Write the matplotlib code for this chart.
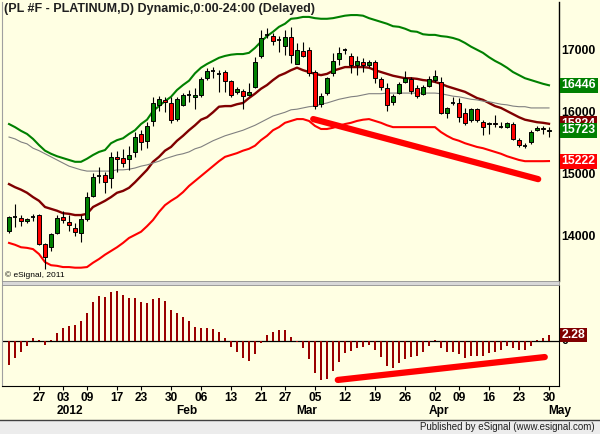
import numpy as np
import pandas as pd
import matplotlib
matplotlib.use('Agg')
import matplotlib.pyplot as plt
import matplotlib.transforms as mtransforms
from matplotlib.patches import Rectangle

plt.rcParams['font.family'] = ['Liberation Sans', 'DejaVu Sans']

# Trading days Dec 19 2011 - Apr 30 2012 (exchange holidays removed)
holidays = ['2011-12-26', '2012-01-02', '2012-01-16', '2012-02-20', '2012-04-06']
days = pd.bdate_range('2011-12-19', '2012-04-30')
days = days[~days.isin(pd.to_datetime(holidays))]

# Daily OHLC
opens = [14090, 14320, 14300, 14250, 14320, 14350, 13880, 13830, 14060, 14320,
         14240, 14140, 14060, 14290, 14660, 14980, 15000, 14950, 15290, 15270,
         15260, 15370, 15660, 15550, 15870, 16130, 16210, 16160, 15900, 16130,
         16290, 16260, 16290, 16560, 16680, 16630, 16660, 16520, 16340, 16350,
         16290, 16420, 16920, 17260, 17240, 17180, 17080, 17230, 16790, 17000,
         17020, 16660, 16140, 16320, 16640, 16870, 17020, 16920, 16770, 16820,
         16770, 16820, 16550, 16400, 16180, 16320, 16500, 16550, 16400, 16300,
         16430, 16530, 16500, 16000, 16160, 16160, 16000, 15890, 16060, 15850,
         15820, 15840, 15770, 15770, 15820, 15560, 15470, 15530, 15720, 15760,
         15700]
highs = [14335, 14530, 14350, 14300, 14370, 14360, 13900, 14060, 14350, 14420,
         14350, 14220, 14350, 14720, 15030, 15130, 15050, 15370, 15390, 15420,
         15470, 15690, 15720, 15850, 16260, 16270, 16260, 16260, 16260, 16320,
         16370, 16400, 16580, 16720, 16740, 16690, 16690, 16530, 16420, 16390,
         16480, 16900, 17340, 17370, 17290, 17240, 17340, 17390, 17130, 17150,
         17070, 16690, 16320, 16580, 16970, 17060, 17050, 16970, 16920, 16890,
         16850, 16860, 16580, 16480, 16300, 16500, 16680, 16580, 16450, 16450,
         16600, 16690, 16580, 16100, 16260, 16240, 16080, 16080, 16080, 15890,
         15850, 15970, 15850, 15850, 15850, 15600, 15510, 15720, 15790, 15790,
         15770]
lows = [14060, 14160, 14170, 14220, 14250, 13860, 13480, 13770, 14040, 14220,
        14090, 14010, 13920, 14250, 14640, 14870, 14710, 14790, 15050, 15130,
        15080, 15290, 15400, 15430, 15790, 16030, 16010, 15840, 15870, 16110,
        16180, 16060, 16260, 16530, 16560, 16340, 16340, 16260, 16300, 16060,
        16270, 16400, 16880, 17210, 17100, 16980, 16940, 16800, 16790, 16900,
        16600, 16060, 16100, 16290, 16600, 16780, 16950, 16640, 16610, 16660,
        16740, 16480, 16370, 16030, 16130, 16300, 16480, 16300, 16240, 16290,
        16420, 16500, 15980, 15920, 16130, 15850, 15800, 15860, 15860, 15640,
        15660, 15780, 15750, 15750, 15560, 15450, 15430, 15500, 15700, 15660,
        15610]
closes = [14320, 14320, 14250, 14290, 14320, 13880, 13670, 14050, 14300, 14270,
          14190, 14080, 14290, 14640, 14970, 14980, 14880, 15290, 15260, 15190,
          15320, 15610, 15530, 15790, 16160, 16220, 16180, 15890, 16220, 16290,
          16290, 16290, 16550, 16680, 16680, 16630, 16520, 16290, 16390, 16270,
          16340, 16820, 17210, 17260, 17160, 17180, 17230, 16940, 17020, 16920,
          16640, 16110, 16270, 16560, 16840, 16970, 17020, 16770, 16840, 16770,
          16820, 16560, 16420, 16130, 16270, 16470, 16560, 16350, 16270, 16420,
          16550, 16600, 16000, 16080, 16160, 15930, 15840, 16060, 15890, 15770,
          15840, 15820, 15770, 15840, 15580, 15480, 15470, 15690, 15760, 15740,
          15723]

# Envelope lines
upper = [15820, 15770, 15710, 15660, 15580, 15480, 15390, 15340, 15300, 15270,
         15240, 15210, 15210, 15260, 15320, 15370, 15400, 15510, 15560, 15590,
         15660, 15720, 15820, 15890, 16030, 16110, 16190, 16260, 16370, 16450,
         16520, 16640, 16730, 16790, 16840, 16890, 16920, 16940, 16950, 16950,
         16970, 17050, 17150, 17240, 17310, 17390, 17440, 17520, 17530, 17550,
         17550, 17530, 17520, 17520, 17530, 17550, 17570, 17580, 17580, 17570,
         17530, 17500, 17470, 17440, 17400, 17390, 17360, 17320, 17310, 17270,
         17260, 17260, 17240, 17230, 17210, 17180, 17130, 17070, 17020, 16970,
         16900, 16840, 16790, 16730, 16660, 16610, 16560, 16530, 16500, 16470,
         16446]
middle = [14850, 14800, 14760, 14710, 14640, 14580, 14480, 14450, 14420, 14380,
          14370, 14350, 14350, 14370, 14480, 14530, 14580, 14640, 14710, 14740,
          14790, 14880, 14980, 15080, 15210, 15290, 15390, 15450, 15550, 15630,
          15720, 15800, 15890, 15930, 16010, 16100, 16110, 16110, 16140, 16160,
          16240, 16310, 16390, 16450, 16530, 16600, 16640, 16690, 16730, 16690,
          16660, 16630, 16610, 16630, 16680, 16710, 16740, 16740, 16740, 16740,
          16730, 16690, 16660, 16630, 16600, 16580, 16560, 16560, 16550, 16530,
          16520, 16500, 16470, 16430, 16400, 16370, 16340, 16290, 16240, 16210,
          16160, 16110, 16080, 16030, 15980, 15930, 15890, 15870, 15850, 15840,
          15824]
gray_ma = [15610, 15580, 15530, 15500, 15430, 15390, 15340, 15290, 15240, 15190,
           15140, 15110, 15080, 15060, 15060, 15060, 15060, 15060, 15080, 15080,
           15090, 15110, 15140, 15160, 15190, 15220, 15260, 15290, 15320, 15340,
           15370, 15420, 15450, 15500, 15550, 15590, 15630, 15660, 15690, 15720,
           15760, 15800, 15850, 15900, 15950, 15980, 16010, 16050, 16060, 16080,
           16100, 16110, 16140, 16160, 16190, 16220, 16240, 16260, 16270, 16290,
           16310, 16310, 16310, 16320, 16320, 16320, 16320, 16320, 16320, 16320,
           16320, 16320, 16310, 16290, 16270, 16260, 16240, 16220, 16210, 16190,
           16180, 16160, 16140, 16130, 16110, 16100, 16100, 16080, 16080, 16080,
           16080]
lower = [13900, 13870, 13830, 13820, 13800, 13720, 13590, 13540, 13530, 13510,
         13510, 13500, 13500, 13510, 13580, 13640, 13710, 13770, 13830, 13900,
         13980, 14030, 14080, 14170, 14270, 14400, 14510, 14580, 14640, 14720,
         14820, 14900, 14980, 15060, 15140, 15220, 15290, 15320, 15350, 15390,
         15420, 15470, 15560, 15630, 15720, 15770, 15840, 15870, 15900, 15900,
         15870, 15790, 15740, 15740, 15760, 15790, 15820, 15840, 15870, 15890,
         15900, 15870, 15840, 15800, 15770, 15770, 15770, 15770, 15770, 15770,
         15770, 15770, 15690, 15630, 15580, 15550, 15510, 15480, 15450, 15430,
         15400, 15370, 15340, 15300, 15270, 15240, 15220, 15220, 15220, 15220,
         15222]

# Oscillator histogram
osc = [-9.1, -6.5, -4.2, -1.9, 1.1, 0.4, -1.5, 0.4, 3.0, 4.9,
       5.7, 6.1, 7.6, 10.6, 14.8, 17.1, 16.7, 18.6, 19.0, 17.5,
       16.3, 16.3, 14.8, 14.4, 16.0, 16.3, 15.2, 11.8, 10.6, 9.1,
       7.6, 5.3, 4.9, 4.9, 4.6, 3.4, 1.1, -2.3, -4.2, -6.5,
       -7.6, -4.9, -0.8, 2.3, 3.4, 4.2, 4.2, 1.5, -0.4, -2.7,
       -6.8, -12.2, -14.8, -14.4, -11.4, -8.0, -4.6, -3.8, -2.7, -2.3,
       -1.5, -3.4, -6.1, -9.5, -10.3, -8.4, -6.8, -6.1, -5.7, -4.2,
       -1.9, 0.4, -2.7, -4.2, -4.2, -4.9, -6.5, -5.7, -5.7, -5.7,
       -4.6, -4.2, -3.4, -1.9, -2.7, -3.4, -3.4, -1.9, 0.4, 1.1,
       2.28]

# Hand-drawn divergence lines (bar index, value)
trend_px = [50.7, 88.2]
trend_py = [15900, 14930]
trend_ox = [54.8, 89.3]
trend_oy = [-14.8, -6.1]

price_ticks = [14000, 15000, 16000, 17000]
tick_days = ['2011-12-27', '2012-01-03', '2012-01-09', '2012-01-17', '2012-01-23',
             '2012-01-30', '2012-02-06', '2012-02-13', '2012-02-21', '2012-02-27',
             '2012-03-05', '2012-03-12', '2012-03-19', '2012-03-26', '2012-04-02',
             '2012-04-09', '2012-04-16', '2012-04-23', '2012-04-30']
month_names = ['2012', 'Feb', 'Mar', 'Apr', 'May']
month_starts = ['2012-01-03', '2012-02-01', '2012-03-01', '2012-04-02', '2012-05-01']

BG = '#FFFFE3'
GREEN = '#008000'
RED = '#FF0000'
MAROON = '#800000'
W, H = 600, 434

def box(x0, y0, x1, y1):
    return [x0 / W, 1 - y1 / H, (x1 - x0) / W, (y1 - y0) / H]

fig = plt.figure(figsize=(W / 100, H / 100), dpi=100, facecolor=BG)
ax = fig.add_axes(box(2, 2, 559, 281), facecolor=BG)
ax2 = fig.add_axes(box(2, 285, 559, 386), facecolor=BG)

idx = np.arange(len(days))
o, h, l, c = map(np.array, (opens, highs, lows, closes))

# envelope lines
ax.plot(idx, upper, color=GREEN, lw=1.5, zorder=2)
ax.plot(idx, middle, color=MAROON, lw=1.7, zorder=2)
ax.plot(idx, gray_ma, color='#808080', lw=0.8, zorder=2)
ax.plot(idx, lower, color=RED, lw=1.5, zorder=2)

# candles
ax.vlines(idx, l, h, color='black', lw=0.8, zorder=3)
body = o != c
cols = np.where(c > o, GREEN, RED)
ax.bar(idx[body], np.abs(c - o)[body], bottom=np.minimum(o, c)[body], width=0.72,
       color=cols[body], edgecolor='black', lw=0.7, zorder=4)
ax.hlines(c[~body], idx[~body] - 0.38, idx[~body] + 0.38, color='black', lw=1.3, zorder=4)

ax.plot(trend_px, trend_py, color=RED, lw=4.5, solid_capstyle='round', zorder=5)

ax.set_xlim(-1.17, 91.67)
ax.set_ylim(13285, 17791)
ax.set_xticks([])
ax.set_yticks([])
for s in ['top', 'bottom']:
    ax.spines[s].set_visible(False)
ax.spines['left'].set_color('#A0A0A0')
ax.spines['right'].set_color('black')
ax.spines['right'].set_linewidth(1.0)

# right-hand scale
ty = mtransforms.blended_transform_factory(ax.transAxes, ax.transData)
lx = (561 - 2) / 557
for p in price_ticks:
    ax.text(lx, p, str(p), transform=ty, ha='left', va='center', fontsize=8.8,
            fontweight='bold', color='black', zorder=1)
last_tags = [(middle[-1], MAROON), (closes[-1], GREEN), (upper[-1], GREEN), (lower[-1], RED)]
for val, col in last_tags:
    ax.text(lx + 0.001, val, f'{val:.0f}', transform=ty, ha='left', va='center',
            fontsize=8.8, fontweight='bold', color='white', zorder=6,
            bbox=dict(boxstyle='square,pad=0.12', facecolor=col, edgecolor='none'))

# oscillator
ax2.bar(idx, osc, width=0.35, color='#990000', zorder=2)
ax2.axhline(0, color='black', lw=0.9, zorder=1)
ax2.plot(trend_ox, trend_oy, color=RED, lw=4.5, solid_capstyle='round', zorder=3)
ax2.set_xlim(-1.17, 91.67)
ax2.set_ylim(-17.1, 21.28)
ax2.set_yticks([])
ax2.spines['top'].set_visible(False)
ax2.spines['left'].set_color('#A0A0A0')
ax2.spines['right'].set_color('black')
ax2.spines['bottom'].set_color('black')

ty2 = mtransforms.blended_transform_factory(ax2.transAxes, ax2.transData)
ax2.text(lx, 0, '0', transform=ty2, ha='left', va='center', fontsize=8.8,
         fontweight='bold', zorder=1)
ax2.text(lx + 0.001, osc[-1], f'{osc[-1]:.2f}', transform=ty2, ha='left', va='center',
         fontsize=8.8, fontweight='bold', color='white', zorder=6,
         bbox=dict(boxstyle='square,pad=0.12', facecolor=MAROON, edgecolor='none'))

# date axis
tick_idx = [days.get_loc(pd.Timestamp(d)) for d in tick_days]
ax2.set_xticks(tick_idx, [pd.Timestamp(d).strftime('%d') for d in tick_days],
               fontsize=8.6, fontweight='bold')
ax2.tick_params(axis='x', length=3, pad=1.5, color='black')
tm = mtransforms.blended_transform_factory(ax2.transData, fig.transFigure)
for name, d in zip(month_names, month_starts):
    pos = np.searchsorted(days, pd.Timestamp(d))
    ax2.text(pos - 1.05, 1 - 411 / H, name, transform=tm, ha='left', va='center',
             fontsize=8.6, fontweight='bold')

# panel splitter, title, footer
fig.patches.append(Rectangle((2 / W, 1 - 285 / H), 557 / W, 4 / H, transform=fig.transFigure,
                             facecolor='#D8D8D8', edgecolor='#909090', lw=0.6))
fig.text(4 / W, 1 - 9 / H, '(PL #F - PLATINUM,D) Dynamic,0:00-24:00 (Delayed)',
         fontsize=9, fontweight='bold', va='center', ha='left', color='#202020')
fig.text(5 / W, 1 - 275 / H, '\u00a9 eSignal, 2011', fontsize=6, va='center', ha='left')
fig.patches.append(Rectangle((0, 0), 1, 14 / H, transform=fig.transFigure,
                             facecolor='#ECECEC', edgecolor='none'))
fig.lines.append(plt.Line2D([0, 1], [14 / H, 14 / H], transform=fig.transFigure,
                            color='#404040', lw=1))
fig.text(595 / W, 7 / H, 'Published by eSignal (www.esignal.com)', fontsize=7,
         ha='right', va='center', color='#202020')

fig.savefig('out.png', dpi=100, facecolor=BG)
